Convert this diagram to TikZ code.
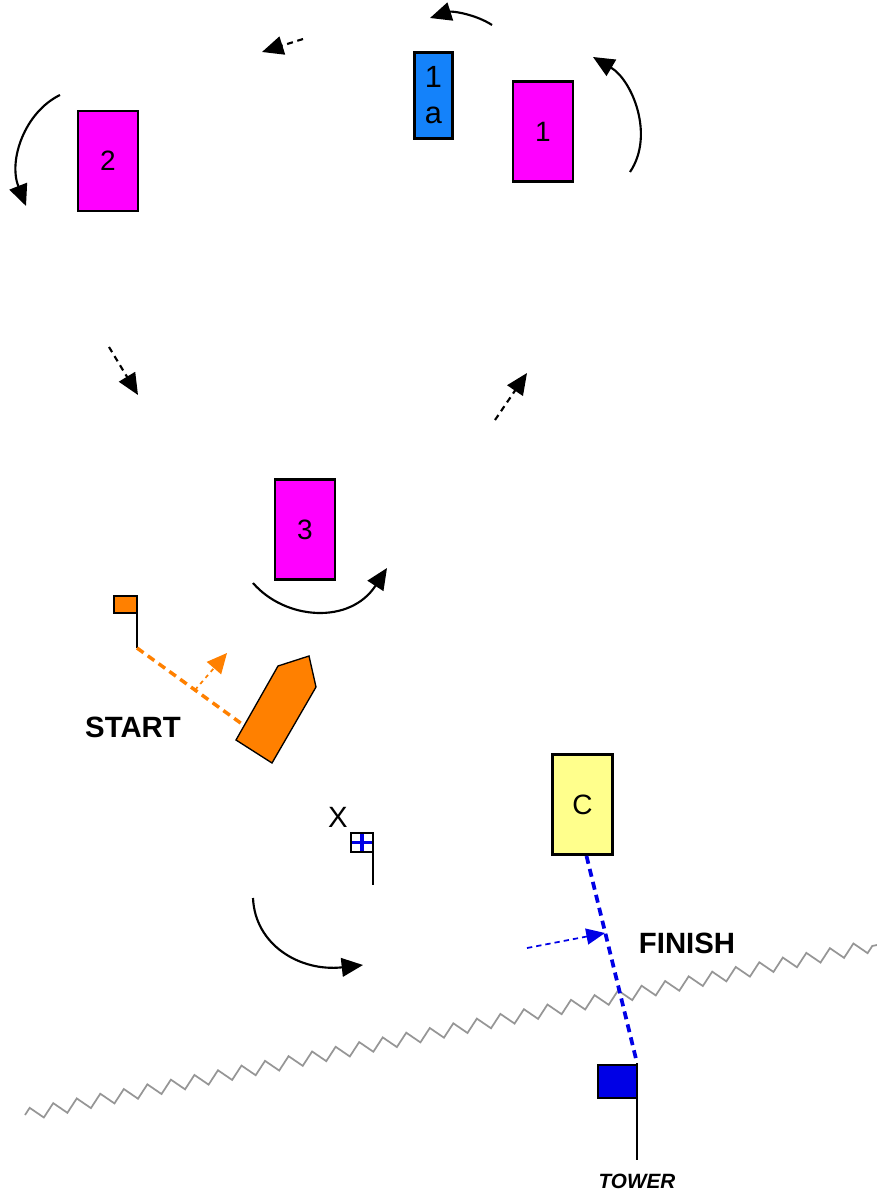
\documentclass[tikz,border=0pt]{standalone}
\usepackage{fontspec}
\setmainfont{Liberation Sans}
\usetikzlibrary{arrows.meta,decorations.pathmorphing}
\definecolor{mag}{RGB}{255,0,255}
\definecolor{mkblue}{RGB}{20,130,250}
\definecolor{cyel}{RGB}{255,255,140}
\definecolor{org}{RGB}{255,128,0}
\definecolor{fblue}{RGB}{0,0,230}
\definecolor{zz}{RGB}{150,150,150}
\begin{document}
\begin{tikzpicture}[x=0.75pt,y=-0.75pt,
  markbox/.style={draw=black, line width=2.2pt, inner sep=0pt, minimum width=45pt, minimum height=75pt, font=\fontsize{21}{26}\selectfont},
  turn/.style={line width=1.6pt, -{Triangle[length=16pt,width=14pt]}},
  leg/.style={line width=1.6pt, dash pattern=on 4.5pt off 3.5pt, -{Triangle[length=16pt,width=14pt]}},
  bigtext/.style={font=\bfseries\fontsize{22}{26}\selectfont},
  flagbox/.style={draw=black, line width=0.9pt},
  pole/.style={line width=1.3pt}]
\useasboundingbox (0,0) rectangle (877,1198);

% zigzag shoreline
\coordinate (zzA) at (25,1115);
\coordinate (zzB) at (877,945);
\draw[zz, line width=1.3pt, decorate, decoration={zigzag, segment length=18pt, amplitude=4.6pt}] (zzA) -- (zzB);

% marks
\node[markbox, fill=mag] (m1) at (543,131.5) {1};
\node[markbox, fill=mkblue, minimum width=28pt, minimum height=64pt, align=center, font=\fontsize{23}{27}\selectfont] (m1a) at (433.5,95.5) {1\\a};
\node[markbox, fill=mag] (m2) at (108,161) {2};
\node[markbox, fill=mag] (m3) at (305,529.5) {3};
\node[markbox, fill=cyel] (mc) at (582.5,804.5) {C};

% turn arrows
\coordinate (t1a) at (630,172); \coordinate (t1b) at (593,57);
\draw[turn] (t1a) .. controls (655,135) and (632,80) .. (t1b);
\coordinate (t2a) at (492,25); \coordinate (t2b) at (430,18);
\draw[turn] (t2a) .. controls (475,14) and (452,11) .. (t2b);
\coordinate (t3a) at (60,95); \coordinate (t3b) at (26,206);
\draw[turn] (t3a) .. controls (25,112) and (8,160) .. (t3b);
\coordinate (t4a) at (253,583); \coordinate (t4b) at (387,568);
\draw[turn] (t4a) .. controls (285,620) and (350,625) .. (t4b);
\coordinate (t5a) at (253,898); \coordinate (t5b) at (363,965);
\draw[turn] (t5a) .. controls (255,945) and (300,972) .. (t5b);

% leg arrows
\coordinate (l1a) at (303,39); \coordinate (l1b) at (262,52);
\draw[leg] (l1a) -- (l1b);
\coordinate (l2a) at (109,347); \coordinate (l2b) at (138,395);
\draw[leg] (l2a) -- (l2b);
\coordinate (l3a) at (495,420); \coordinate (l3b) at (527,373);
\draw[leg] (l3a) -- (l3b);

% start: pin flag and committee boat
\draw[flagbox, fill=org] (114,596) rectangle (137,613);
\coordinate (pintop) at (137,596);
\coordinate (pinend) at (137,648);
\draw[pole] (pintop) -- (pinend);
\draw[fill=org, line width=1pt] (236,740) -- (278,666) -- (309,656) -- (316,687) -- (272,763) -- cycle;
\coordinate (boatpt) at (242,724);
\draw[org, line width=2.6pt, dash pattern=on 6pt off 4pt] (pinend) -- (boatpt);
\coordinate (oa) at (195,690); \coordinate (ob) at (227,653);
\draw[org, line width=1.3pt, dash pattern=on 3pt off 3pt, -{Triangle[length=15pt,width=14pt]}] (oa) -- (ob);
\node[bigtext] (start) at (133,727) {START};

% X flag
\node[font=\fontsize{22}{26}\selectfont] (xl) at (338,817) {X};
\fill[white] (351,833) rectangle (373,852);
\draw[fblue, line width=2.6pt] (362,833) -- (362,852) (351,842.5) -- (373,842.5);
\draw[flagbox] (351,833) rectangle (373,852);
\coordinate (xtop) at (373,833); \coordinate (xbot) at (373,885);
\draw[pole] (xtop) -- (xbot);

% finish
\draw[flagbox, fill=fblue] (598,1065) rectangle (637,1098);
\coordinate (towertop) at (637,1063);
\coordinate (towerbot) at (637,1160);
\draw[pole] (towertop) -- (towerbot);
\draw[fblue, line width=2.8pt, dash pattern=on 6pt off 4pt] ([xshift=3pt]mc.south) -- (towertop);
\coordinate (fa) at (527,948); \coordinate (fb) at (605,933);
\draw[fblue, line width=1.3pt, dash pattern=on 4pt off 3pt, -{Triangle[length=14pt,width=12pt]}] (fa) -- (fb);
\node[bigtext] (finish) at (687,943) {FINISH};
\node[font=\bfseries\itshape\fontsize{15.5}{18}\selectfont] (tower) at (637,1181) {TOWER};
\end{tikzpicture}
\end{document}
